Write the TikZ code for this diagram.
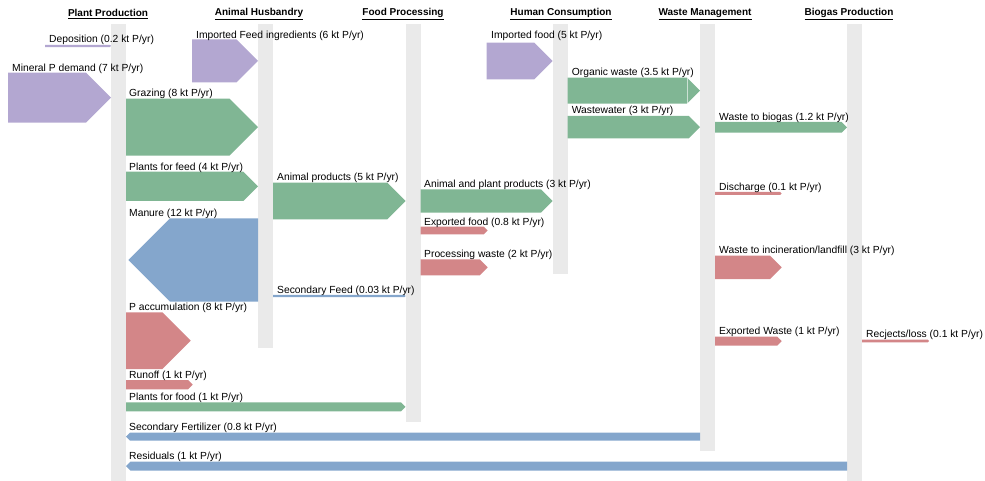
\documentclass[tikz,border=0pt]{standalone}
\usepackage{fontspec}
\setmainfont{Liberation Sans}
\usetikzlibrary{calc}
\definecolor{barc}{RGB}{234,234,234}
\definecolor{purp}{RGB}{179,167,209}
\definecolor{grn}{RGB}{128,182,148}
\definecolor{blu}{RGB}{132,166,204}
\definecolor{rd}{RGB}{211,134,136}
\newcommand\flowR[5]{\fill[#5] let \p1=(#1), \p2=(#2), \n1={(#4-#3)/2} in
  (\x1,{-#3pt}) -- ({\x2-\n1*1pt},{-#3pt}) -- (\x2,{-(#3+#4)/2*1pt}) -- ({\x2-\n1*1pt},{-#4pt}) -- (\x1,{-#4pt}) -- cycle;}
\newcommand\flowL[5]{\fill[#5] let \p1=(#1), \p2=(#2), \n1={(#4-#3)/2} in
  (\x1,{-#3pt}) -- ({\x2+\n1*1pt},{-#3pt}) -- (\x2,{-(#3+#4)/2*1pt}) -- ({\x2+\n1*1pt},{-#4pt}) -- (\x1,{-#4pt}) -- cycle;}
\begin{document}
\begin{tikzpicture}[x=1pt,y=-1pt,
  bar/.style={fill=barc,inner sep=0pt,outer sep=0pt,minimum width=15pt,anchor=north west},
  hdr/.style={font=\fontsize{10}{12}\selectfont\bfseries,inner sep=0pt},
  lbl/.style={font=\fontsize{10.3}{12}\selectfont,inner sep=0pt,anchor=west,yshift=-1pt}]
\useasboundingbox (0,0) rectangle (985,481);
% columns
\node[bar,minimum height=457pt] (pp) at (111,24) {};
\node[bar,minimum height=324pt] (ah) at (258,24) {};
\node[bar,minimum height=398pt] (fp) at (405.5,24) {};
\node[bar,minimum height=250pt] (hc) at (552.5,24) {};
\node[bar,minimum height=427pt] (wm) at (700,24) {};
\node[bar,minimum height=457pt] (bp) at (847,24) {};
% headers
\node[hdr] (hpp) at (108,14) {\underline{Plant Production}};
\node[hdr] (hah) at (259,14) {\underline{Animal Husbandry}};
\node[hdr] (hfp) at (403,14) {\underline{Food Processing}};
\node[hdr] (hhc) at (561,14) {\underline{Human Consumption}};
\node[hdr] (hwm) at (705,14) {\underline{Waste Management}};
\node[hdr] (hbp) at (849,14) {\underline{Biogas Production}};
% free ends
\coordinate (dep0) at (45,0);
\coordinate (min0) at (8,0);
\coordinate (ifd0) at (192,0);
\coordinate (imf0) at (486.7,0);
\coordinate (mantip) at (128.3,0);
\coordinate (pacc) at (190.7,0);
\coordinate (runo) at (192.7,0);
\coordinate (expf) at (487.7,0);
\coordinate (proc) at (487.7,0);
\coordinate (disc) at (781.7,0);
\coordinate (inci) at (781.7,0);
\coordinate (expw) at (781.7,0);
\coordinate (rejl) at (929,0);
% flows
\flowR{dep0}{pp.west}{44.8}{47.2}{purp}
\flowR{min0}{pp.west}{72.7}{122.7}{purp}
\flowR{ifd0}{ah.west}{39.3}{82.3}{purp}
\flowR{pp.east}{ah.west}{98.7}{155.7}{grn}
\flowR{pp.east}{ah.west}{171.7}{201}{grn}
\flowL{ah.west}{mantip}{218.3}{301.7}{blu}
\flowR{pp.east}{pacc}{312.3}{369}{rd}
\flowR{pp.east}{runo}{380}{389.3}{rd}
\flowR{pp.east}{fp.west}{402.3}{411.3}{grn}
\flowL{wm.west}{pp.east}{432.7}{440.7}{blu}
\flowL{bp.west}{pp.east}{461.7}{470.7}{blu}
\flowR{ah.east}{fp.west}{182.7}{219.3}{grn}
\flowR{ah.east}{fp.west}{294.8}{297.2}{blu}
\flowR{fp.east}{hc.west}{189.3}{212.7}{grn}
\flowR{fp.east}{expf}{226.7}{234.3}{rd}
\flowR{fp.east}{proc}{259.3}{275.3}{rd}
\flowR{imf0}{hc.west}{42.7}{79.3}{purp}
\flowR{hc.east}{wm.west}{77.7}{103.7}{grn}
\draw[white,opacity=0.6,line width=0.5pt] (687.3,77.7) -- (687.3,103.7);
\flowR{hc.east}{wm.west}{116}{138.3}{grn}
\flowR{wm.east}{bp.west}{122}{132.7}{grn}
\flowR{wm.east}{disc}{192}{195}{rd}
\flowR{wm.east}{inci}{255.7}{279}{rd}
\flowR{wm.east}{expw}{336.7}{345.7}{rd}
\flowR{bp.east}{rejl}{339.7}{342.3}{rd}
% labels
\node[lbl] (l1) at (49,39) {Deposition (0.2 kt P/yr)};
\node[lbl] (l2) at (12,68) {Mineral P demand (7 kt P/yr)};
\node[lbl] (l3) at (196,35) {Imported Feed ingredients (6 kt P/yr)};
\node[lbl] (l4) at (129,93) {Grazing (8 kt P/yr)};
\node[lbl] (l5) at (129,166.7) {Plants for feed (4 kt P/yr)};
\node[lbl] (l6) at (129,213) {Manure (12 kt P/yr)};
\node[lbl] (l7) at (129,306.7) {P accumulation (8 kt P/yr)};
\node[lbl] (l8) at (129,375) {Runoff (1 kt P/yr)};
\node[lbl] (l9) at (129,397.3) {Plants for food (1 kt P/yr)};
\node[lbl] (l10) at (129,427.3) {Secondary Fertilizer (0.8 kt P/yr)};
\node[lbl] (l11) at (129,456) {Residuals (1 kt P/yr)};
\node[lbl] (l12) at (277,176.7) {Animal products (5 kt P/yr)};
\node[lbl] (l13) at (277,290) {Secondary Feed (0.03 kt P/yr)};
\node[lbl] (l14) at (424,184) {Animal and plant products (3 kt P/yr)};
\node[lbl] (l15) at (424,221.7) {Exported food (0.8 kt P/yr)};
\node[lbl] (l16) at (424,254.3) {Processing waste (2 kt P/yr)};
\node[lbl] (l17) at (491,35) {Imported food (5 kt P/yr)};
\node[lbl] (l18) at (571.7,71.7) {Organic waste (3.5 kt P/yr)};
\node[lbl] (l19) at (571.7,110) {Wastewater (3 kt P/yr)};
\node[lbl] (l20) at (719,117.3) {Waste to biogas (1.2 kt P/yr)};
\node[lbl] (l21) at (719,187.3) {Discharge (0.1 kt P/yr)};
\node[lbl] (l22) at (719,250) {Waste to incineration/landfill (3 kt P/yr)};
\node[lbl] (l23) at (719,331) {Exported Waste (1 kt P/yr)};
\node[lbl] (l24) at (866,334) {Recjects/loss (0.1 kt P/yr)};
\end{tikzpicture}
\end{document}
